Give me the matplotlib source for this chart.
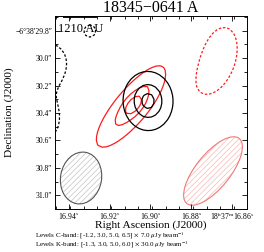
import numpy as np
import matplotlib
matplotlib.use('Agg')
import matplotlib.pyplot as plt
from matplotlib.patches import Ellipse
from matplotlib.ticker import FixedLocator, FixedFormatter, MultipleLocator
from matplotlib.transforms import Affine2D

plt.rcParams['font.family'] = ['Liberation Serif', 'DejaVu Serif']
plt.rcParams['mathtext.fontset'] = 'stix'
plt.rcParams['hatch.linewidth'] = 0.5

ARCSEC_PER_S = 14.9  # 15 * cos(dec)

# ---- K-band (black) gaussian components: ra [s], dec ["], peak [x rms], sigma maj/min ["], pa [deg]
k_ra = [16.9012, 16.9493, 16.9508, 16.9297]
k_dec = [30.3126, 30.0282, 30.4365, 29.8022]
k_peak = [6.3, -2.2, -1.7, -1.6]
k_smaj = [0.177, 0.124, 0.190, 0.068]
k_smin = [0.150, 0.110, 0.124, 0.068]
k_pa = [92, 90, 90, 0]
k_levels = [-1.3, 3.0, 5.0, 6.0]

# ---- C-band (red) gaussian components
c_ra = [16.9091, 16.9081, 16.8688]
c_dec = [30.349, 30.3417, 30.0136]
c_peak = [5.8, 2.25, -2.0]
c_smaj = [0.331, 0.058, 0.26]
c_smin = [0.105, 0.035, 0.152]
c_pa = [50, 50, 70]
c_levels = [-1.2, 3.0, 5.0, 6.5]

# ---- beams: ra, dec, major ["], minor ["], pa
k_beam = [16.9341, 30.874, 0.38, 0.30, 80]
c_beam = [16.8693, 30.823, 0.61, 0.25, 51]

# scale bar
bar_arcsec = 0.25
bar_label = '1210 AU'

xticks = [16.94, 16.92, 16.90, 16.88, 16.86]
xlabels = [r'16.94$^{\rm s}$', r'16.92$^{\rm s}$', r'16.90$^{\rm s}$', r'16.88$^{\rm s}$',
           r'18$^{\rm h}$37$^{\rm m}$16.86$^{\rm s}$']
yticks = [29.8, 30.0, 30.2, 30.4, 30.6, 30.8, 31.0]
ylabels = ['\u22126\u00b038\u203229.8\u2033', '30.0\u2033', '30.2\u2033', '30.4\u2033',
           '30.6\u2033', '30.8\u2033', '31.0\u2033']

# ---- model images
step = 0.03
ra_grid = np.arange(16.97, 16.83, -step / ARCSEC_PER_S)
dec_grid = np.arange(29.55, 31.25, step)
RA, DEC = np.meshgrid(ra_grid, dec_grid)


def model(ras, decs, peaks, smaj, smin, pas):
    img = np.zeros_like(RA)
    for r0, d0, p, a, b, pa in zip(ras, decs, peaks, smaj, smin, pas):
        X = -(RA - r0) * ARCSEC_PER_S
        Y = -(DEC - d0)
        t = np.deg2rad(pa)
        u = X * np.cos(t) + Y * np.sin(t)
        v = -X * np.sin(t) + Y * np.cos(t)
        img += p * np.exp(-0.5 * ((u / a) ** 2 + (v / b) ** 2))
    return img


k_img = model(k_ra, k_dec, k_peak, k_smaj, k_smin, k_pa)
c_img = model(c_ra, c_dec, c_peak, c_smaj, c_smin, c_pa)

fig = plt.figure(figsize=(2.64, 2.52), dpi=100)
ax = fig.add_axes([0.2083, 0.1706, 0.7273, 0.7659])

dash = (0, (2.0, 1.5))
ax.contour(RA, DEC, c_img, levels=c_levels, colors='#ff1a1a', linewidths=0.9,
           linestyles=[dash if l < 0 else 'solid' for l in c_levels])
ax.contour(RA, DEC, k_img, levels=k_levels, colors='k', linewidths=0.9,
           linestyles=[dash if l < 0 else 'solid' for l in k_levels])

# beams
for beam, hcol, ecol in [(k_beam, '#c4c4c4', '#555555'), (c_beam, '#f8baba', '#f07878')]:
    tr = Affine2D().scale(-1 / ARCSEC_PER_S, -1).translate(beam[0], beam[1]) + ax.transData
    ax.add_patch(Ellipse((0, 0), beam[2], beam[3], angle=beam[4], transform=tr,
                         facecolor='none', edgecolor=hcol, hatch='//////', lw=0))
    ax.add_patch(Ellipse((0, 0), beam[2], beam[3], angle=beam[4], transform=tr,
                         facecolor='none', edgecolor=ecol, lw=0.8))

ax.set_xlim(16.9469, 16.8526)
ax.set_ylim(31.10, 29.693)

# scale bar
x0 = 16.9429
x1 = x0 - bar_arcsec / ARCSEC_PER_S
ax.plot([x0, x1], [29.702, 29.702], color='k', lw=1.3, solid_capstyle='butt')
ax.text((x0 + x1) / 2, 29.79, bar_label, ha='center', va='center', fontsize=9, zorder=5)

ax.xaxis.set_major_locator(FixedLocator(xticks))
ax.xaxis.set_major_formatter(FixedFormatter(xlabels))
ax.xaxis.set_minor_locator(MultipleLocator(0.1 / ARCSEC_PER_S))
ax.yaxis.set_major_locator(FixedLocator(yticks))
ax.yaxis.set_major_formatter(FixedFormatter(ylabels))
ax.yaxis.set_minor_locator(MultipleLocator(0.1))
ax.tick_params(which='both', direction='in', top=True, right=True, labelsize=5.5, width=0.6)
ax.tick_params(which='major', length=3.5, pad=2)
ax.tick_params(axis='x', which='major', pad=1.5)
ax.tick_params(which='minor', length=2)
for s in ax.spines.values():
    s.set_linewidth(0.7)

ax.set_xlabel('Right Ascension (J2000)', fontsize=8.2)
ax.xaxis.set_label_coords(0.5, -0.084)
ax.xaxis.label.set_va('center')
ax.set_ylabel('Declination (J2000)', fontsize=8.2, labelpad=1)
ax.set_title('18345\u22120641 A', fontsize=11.5, pad=2)

fig.text(0.133, 0.067, r'Levels C-band: [-1.2, 3.0, 5.0, 6.5] $\times$ 7.0 $\mu$Jy beam$^{-1}$',
         fontsize=5.0, va='center')
fig.text(0.133, 0.028, r'Levels K-band: [-1.3, 3.0, 5.0, 6.0] $\times$ 30.0 $\mu$Jy beam$^{-1}$',
         fontsize=5.0, va='center')

fig.savefig('out.png', dpi=100)
